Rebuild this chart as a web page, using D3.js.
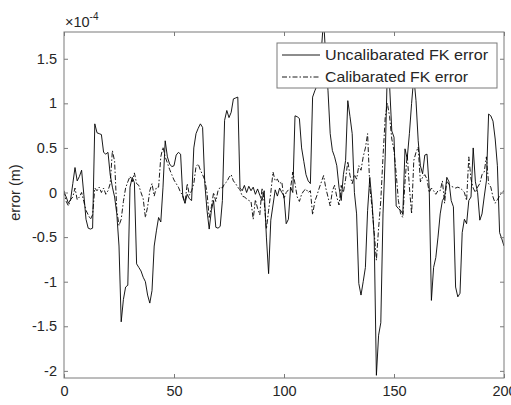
<!DOCTYPE html>
<html>
<head>
<meta charset="utf-8">
<script src="https://cdn.jsdelivr.net/npm/d3@7"></script>
<style>
    body { margin: 0; background: #fff; }
    text { font-family: Arial, "Liberation Sans", sans-serif; fill: #262626; }
</style>
</head>
<body>
<div id="visualization"></div>
<script>
// values are in units of 1e-4 m, sample index 0..200
var uncalibrated = [
    0.0, -0.05, -0.12, -0.08, 0.1, 0.28, 0.13, 0.18, 0.25, -0.02,
    -0.3, -0.4, -0.41, -0.4, 0.77, 0.67, 0.66, 0.65, 0.45, 0.43,
    0.45, 0.2, 0.06, -0.05, -0.24, -0.6, -1.45, -1.2, -1.06, -1.04,
    0.06, 0.17, 0.11, -0.8, -0.84, -0.88, -0.95, -1.0, -1.15, -1.24,
    -1.1, -0.6, -0.43, -0.28, -0.33, 0.06, 0.58, 0.4, 0.32, 0.29,
    0.3, 0.42, 0.45, 0.43, -0.05, -0.12, -0.02, -0.07, -0.09, 0.5,
    0.66, 0.72, 0.77, 0.73, 0.1, -0.2, -0.41, -0.2, -0.09, -0.39,
    -0.4, -0.38, -0.09, 0.81, 0.92, 0.84, 0.9, 1.05, 1.06, 1.07,
    0.05, 0.02, 0.08, 0.0, 0.07, 0.02, 0.06, -0.02, 0.04, -0.03,
    -0.09, 0.02, -0.5, -0.91, -0.31, -0.14, 0.03, -0.04, 0.05, 0.0,
    -0.04, -0.35, -0.3, 0.06, 0.0, 0.86, 0.85, 0.83, 0.5, 0.35,
    0.2, 0.13, 0.1, 1.07, 1.14, 1.2, 1.3, 1.6, 1.95, 1.5,
    1.14, 0.66, 0.47, 0.4, 0.3, 0.06, -0.09, 0.2, 0.36, 1.03,
    0.85, 0.66, 0.0, -0.24, -1.02, -1.15, -1.0, -0.84, -0.2, 0.17,
    -0.1, -0.5, -2.05, -1.6, -1.46, -0.24, 0.4, 1.4, 1.2, 0.69,
    0.62, -0.15, -0.18, -0.2, -0.24, 0.49, 0.38, 0.66, 1.0, 1.3,
    1.03, 0.58, 0.3, 0.21, 0.42, 0.43, 0.06, -1.21, -0.84, -0.73,
    -0.5, -0.24, -0.09, -0.05, 0.17, 0.12, -0.09, -0.16, -1.06, -1.17,
    -1.13, -0.45, -0.3, -0.35, -0.09, -0.05, 0.5, 0.12, 0.0, -0.31,
    -0.24, -0.05, 0.13, 0.88, 0.86, 0.8, 0.6, 0.3, -0.45, -0.52,
    -0.6
];

var calibrated = [
    0.02, -0.1, -0.15, -0.08, -0.05, 0.05, -0.08, -0.05, 0.0, -0.1,
    -0.2, -0.25, -0.3, -0.25, 0.05, 0.02, 0.06, 0.0, 0.05, -0.02,
    0.02, 0.1, 0.47, 0.35, -0.2, -0.37, -0.3, -0.1, 0.05, 0.12,
    0.18, 0.12, 0.22, 0.1, 0.08, 0.0, -0.07, -0.28, -0.16, 0.02,
    0.1, -0.04, 0.06, 0.06, 0.4, 0.51, 0.4, 0.33, 0.26, 0.2,
    0.14, 0.1, 0.06, 0.0, -0.03, -0.12, 0.1, -0.03, 0.02, 0.1,
    0.29, 0.32, 0.25, 0.2, 0.14, 0.0, -0.28, -0.16, 0.0, -0.1,
    0.02, 0.06, 0.05, 0.1, 0.12, 0.17, 0.2, 0.13, 0.1, 0.06,
    0.03, -0.04, -0.05, -0.07, -0.09, -0.1, -0.3, -0.08, -0.18, -0.25,
    0.05, -0.1, -0.41, -0.2, 0.0, 0.23, 0.13, 0.15, 0.1, 0.12,
    -0.07, 0.0, 0.03, 0.05, 0.23, 0.1, -0.05, -0.1, -0.02, 0.02,
    0.04, 0.0, 0.02, -0.25, -0.1, -0.03, 0.05, 0.12, 0.19, 0.05,
    -0.05, -0.15, 0.02, 0.08, -0.05, -0.14, 0.08, 0.0, 0.15, 0.35,
    0.19, 0.1, 0.2, 0.15, 0.3, 0.25, 0.4, 0.5, 0.66, 0.06,
    -0.16, -0.45, -0.76, -0.4, -0.09, 0.4, 0.84, 1.0, 0.85, 0.6,
    0.47, 0.21, -0.09, -0.24, -0.28, 0.12, 0.43, 0.06, -0.24, 0.36,
    0.45, 0.51, 0.12, 0.17, 0.2, 0.15, 0.0, 0.05, 0.02, -0.02,
    0.02, 0.02, 0.13, -0.12, 0.13, 0.09, 0.07, 0.06, 0.05, 0.06,
    0.05, 0.03, 0.0, -0.09, 0.4, 0.15, 0.05, 0.0, 0.06, 0.1,
    0.2, 0.23, 0.4, 0.1, 0.06, -0.05, -0.12, -0.08, -0.04, 0.0,
    0.02
];

var xTicks = [0, 50, 100, 150, 200];
var yTicks = [-2, -1.5, -1, -0.5, 0, 0.5, 1, 1.5];
var seriesNames = ["Uncalibarated FK error", "Calibarated FK error"];

//Define Margin
var margin = {left: 64, right: 7, top: 32, bottom: 27},
    width = 511 - margin.left - margin.right,
    height = 405 - margin.top - margin.bottom;

var svg = d3.select("#visualization")
    .append("svg")
    .attr("width", width + margin.left + margin.right)
    .attr("height", height + margin.top + margin.bottom)
    .append("g")
    .attr("transform", "translate(" + margin.left + "," + margin.top + ")");

var xScale = d3.scaleLinear().domain([0, 200]).range([0, width]),
    yScale = d3.scaleLinear().domain([-2.08, 1.8]).range([height, 0]);

var axisColor = "#7a7a7a";
var tickLen = 4;
var dashDot = "5,2,1.5,2";

svg.append("clipPath")
    .attr("id", "plot-clip")
    .append("rect")
    .attr("width", width)
    .attr("height", height);

var line = d3.line()
    .x(function (d, i) { return xScale(i); })
    .y(function (d) { return yScale(d); });

var lines = svg.append("g").attr("clip-path", "url(#plot-clip)");

lines.append("path")
    .datum(calibrated)
    .attr("d", line)
    .attr("fill", "none")
    .attr("stroke", "#000")
    .attr("stroke-width", 0.9)
    .attr("stroke-dasharray", dashDot);

lines.append("path")
    .datum(uncalibrated)
    .attr("d", line)
    .attr("fill", "none")
    .attr("stroke", "#000")
    .attr("stroke-width", 0.9);

// axes (MATLAB style: ticks inside, box on)
svg.append("g")
    .attr("transform", "translate(0," + height + ")")
    .call(d3.axisBottom(xScale).tickValues(xTicks).tickSizeInner(-tickLen).tickSizeOuter(0).tickPadding(8));

svg.append("g")
    .call(d3.axisLeft(yScale).tickValues(yTicks).tickSizeInner(-tickLen).tickSizeOuter(0).tickPadding(7)
        .tickFormat(function (d) { return String(d); }));

svg.append("g")
    .call(d3.axisTop(xScale).tickValues(xTicks).tickSizeInner(-tickLen).tickSizeOuter(0).tickFormat(""));

svg.append("g")
    .attr("transform", "translate(" + width + ",0)")
    .call(d3.axisRight(yScale).tickValues(yTicks).tickSizeInner(-tickLen).tickSizeOuter(0).tickFormat(""));

svg.selectAll(".domain").remove();
svg.selectAll(".tick line").attr("stroke", axisColor);
svg.selectAll(".tick text")
    .attr("font-size", "14.5px")
    .attr("font-family", "Arial, 'Liberation Sans', sans-serif")
    .attr("fill", "#262626");

svg.append("rect")
    .attr("width", width)
    .attr("height", height)
    .attr("fill", "none")
    .attr("stroke", axisColor)
    .attr("stroke-width", 1);

// exponent label
var expLabel = svg.append("text")
    .attr("x", 1)
    .attr("y", -5)
    .attr("font-size", "14.5px");
expLabel.append("tspan").text("\u00d710");
expLabel.append("tspan")
    .attr("dy", -7)
    .attr("font-size", "10px")
    .text("-4");

// y label
svg.append("text")
    .attr("transform", "rotate(-90)")
    .attr("x", -yScale(0))
    .attr("y", -44)
    .style("text-anchor", "middle")
    .attr("font-size", "14.5px")
    .text("error (m)");

// ==== legend ====
var legend = svg.append("g")
    .attr("transform", "translate(" + (277 - margin.left) + "," + (43 - margin.top) + ")");

legend.append("rect")
    .attr("width", 220)
    .attr("height", 45)
    .attr("fill", "#fff")
    .attr("stroke", axisColor)
    .attr("stroke-width", 1);

var legendItem = legend.selectAll(".legend-item")
    .data(seriesNames)
    .enter()
    .append("g")
    .attr("class", "legend-item")
    .attr("transform", function (d, i) {
        return "translate(0," + (12 + i * 22) + ")";
    });

legendItem.append("line")
    .attr("x1", 5)
    .attr("x2", 43)
    .attr("stroke", "#000")
    .attr("stroke-width", 0.9)
    .attr("stroke-dasharray", function (d, i) { return i === 1 ? dashDot : null; });

legendItem.append("text")
    .attr("x", 48)
    .attr("y", 5)
    .attr("font-size", "15px")
    .attr("textLength", function (d, i) { return i === 0 ? 163 : 143; })
    .attr("lengthAdjust", "spacingAndGlyphs")
    .text(function (d) { return d; });
</script>
</body>
</html>
